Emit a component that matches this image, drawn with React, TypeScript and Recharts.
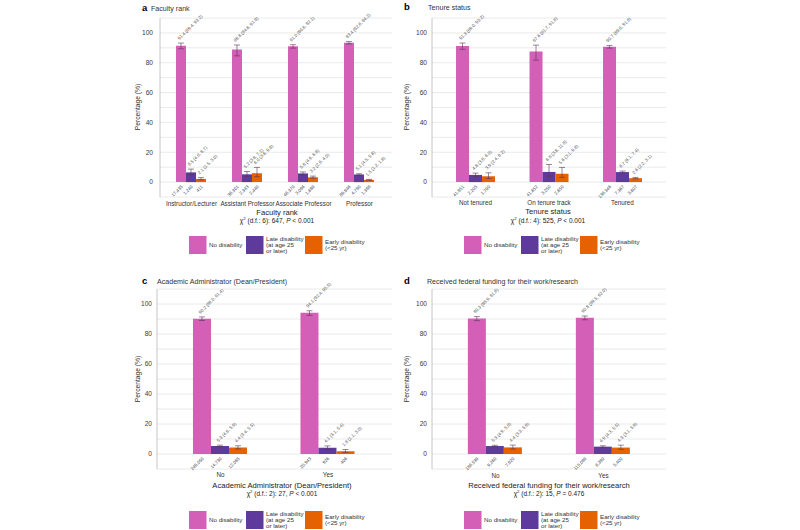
import { BarChart, Bar, XAxis, YAxis, CartesianGrid, ErrorBar, LabelList } from "recharts"

const COLOURS = { none: "#D35FB7", late: "#5D3A9B", early: "#E66100" }
const FONT = "'Liberation Sans', Arial, sans-serif"

// a — faculty rank
const rankCats = ["Instructor/Lecturer", "Assistant Professor", "Associate Professor", "Professor"]
const rankNone = [91.4, 88.8, 91.0, 93.4]
const rankNoneCI = [[89.4, 93.2], [84.6, 91.9], [89.8, 92.1], [92.6, 94.2]]
const rankLate = [6.5, 5.2, 5.8, 5.1]
const rankLateCI = [[4.8, 8.7], [3.8, 7.1], [4.9, 6.8], [4.5, 5.6]]
const rankEarly = [2.1, 6.0, 3.2, 1.5]
const rankEarlyCI = [[1.5, 3.0], [3.6, 9.8], [2.6, 4.0], [1.2, 1.8]]
const rankN = [["17,435", "1,240", "411"], ["36,301", "2,343", "2,440"], ["46,370", "3,096", "1,689"], ["89,846", "4,790", "1,398"]]

// b — tenure status
const tenureCats = ["Not tenured", "On tenure track", "Tenured"]
const tenureNone = [91.3, 87.6, 90.7]
const tenureNoneCI = [[89.0, 93.2], [81.7, 91.8], [89.8, 91.6]]
const tenureLate = [4.8, 6.8, 6.7]
const tenureLateCI = [[3.8, 6.0], [3.8, 11.8], [6.1, 7.4]]
const tenureEarly = [3.9, 5.6, 2.6]
const tenureEarlyCI = [[2.4, 6.2], [3.1, 9.8], [2.2, 3.1]]
const tenureN = [["41,951", "2,205", "1,790"], ["41,652", "3,250", "2,650"], ["136,346", "7,367", "3,607"]]

// c — academic administrator
const adminCats = ["No", "Yes"]
const adminNone = [90.2, 94.1]
const adminNoneCI = [[89.0, 91.4], [92.4, 95.5]]
const adminLate = [5.3, 4.1]
const adminLateCI = [[4.8, 5.9], [3.1, 5.4]]
const adminEarly = [4.4, 1.8]
const adminEarlyCI = [[3.4, 5.5], [1.1, 3.0]]
const adminN = [["249,050", "14,730", "12,085"], ["20,943", "926", "406"]]

// d — federal funding
const fundCats = ["No", "Yes"]
const fundNone = [90.3, 90.8]
const fundNoneCI = [[88.9, 91.6], [89.5, 92.0]]
const fundLate = [5.3, 4.9]
const fundLateCI = [[4.9, 5.8], [4.3, 5.5]]
const fundEarly = [4.4, 4.3]
const fundEarlyCI = [[3.3, 5.9], [3.1, 5.9]]
const fundN = [["186,539", "9,260", "7,820"], ["115,099", "6,390", "5,400"]]

const Y_TICKS = [-10, 0, 10, 20, 30, 40, 50, 60, 70, 80, 90, 100]

type Series = { vals: number[]; ci: number[][] }

function buildRows(cats: string[], none: Series, late: Series, early: Series) {
  return cats.map((c, i) => ({
    cat: c,
    none: none.vals[i],
    late: late.vals[i],
    early: early.vals[i],
    noneErr: [none.vals[i] - none.ci[i][0], none.ci[i][1] - none.vals[i]],
    lateErr: [late.vals[i] - late.ci[i][0], late.ci[i][1] - late.vals[i]],
    earlyErr: [early.vals[i] - early.ci[i][0], early.ci[i][1] - early.vals[i]],
  }))
}

function boxOf(props: any) {
  const vb = props.viewBox ?? {}
  return {
    x: props.x ?? vb.x,
    y: props.y ?? vb.y,
    width: props.width ?? vb.width,
    height: props.height ?? vb.height,
  }
}

// estimate + CI, rotated, sitting above the error bar
function estimateLabel(s: Series) {
  return (props: any) => {
    const i = props.index
    const { x, y, width, height } = boxOf(props)
    if (x == null) return null
    const v = s.vals[i]
    const base = y + height
    const hiPx = base - ((base - y) * s.ci[i][1]) / v
    const tx = x + width / 2 - 1.5
    const ty = hiPx - 3
    const txt = `${v.toFixed(1)} (${s.ci[i][0].toFixed(1)}, ${s.ci[i][1].toFixed(1)})`
    return (
      <text x={tx} y={ty} fontSize={4.5} fill="#555" fontFamily={FONT} transform={`rotate(-45 ${tx} ${ty})`}>
        {txt}
      </text>
    )
  }
}

// weighted n, rotated, under the zero line
function countLabel(counts: string[][], k: number) {
  return (props: any) => {
    const i = props.index
    const { x, y, width, height } = boxOf(props)
    if (x == null) return null
    const tx = x + width / 2 + 2
    const ty = y + height + 5
    return (
      <text x={tx} y={ty} fontSize={4.5} fill="#445" textAnchor="end" fontFamily={FONT} transform={`rotate(-45 ${tx} ${ty})`}>
        {counts[i][k]}
      </text>
    )
  }
}

type Geo = { l: number; r: number; t: number; b: number; padL: number; padR: number; gap: string; tickGap: number; labDy: number }

function Panel(props: { cats: string[]; none: Series; late: Series; early: Series; counts: string[][]; geo: Geo }) {
  const { geo } = props
  const rows = buildRows(props.cats, props.none, props.late, props.early)
  const yW = 30
  const top = 10
  const left = geo.l - yW
  const width = geo.r - left + 4
  const height = top + (geo.b - geo.t) + 16

  const xTick = (p: any) => (
    <text x={p.x} y={p.y + geo.labDy} dy="0.35em" textAnchor="middle" fontSize={6.3} fill="#333" fontFamily={FONT}>
      {p.payload.value}
    </text>
  )

  return (
    <div style={{ position: "absolute", left, top: geo.t - top }}>
      <BarChart
        width={width}
        height={height}
        data={rows}
        margin={{ top, right: 4, left: 0, bottom: 0 }}
        barCategoryGap={geo.gap}
        barGap={0}
      >
        <CartesianGrid vertical={false} stroke="#e4e4e4" strokeWidth={0.8} />
        <XAxis
          dataKey="cat"
          interval={0}
          height={16}
          axisLine={false}
          tickLine={false}
          tickSize={0}
          tickMargin={0}
          tick={xTick}
          padding={{ left: geo.padL, right: geo.padR }}
        />
        <YAxis
          width={yW}
          domain={[-10, 110]}
          ticks={Y_TICKS}
          tickFormatter={(v: number) => (v >= 0 && v % 20 === 0 ? String(v) : "")}
          tick={{ fontSize: 6.6, fill: "#3a3a3a", fontFamily: FONT }}
          tickLine={false}
          tickSize={0}
          tickMargin={geo.tickGap}
          axisLine={{ stroke: "#b8b8b8", strokeWidth: 0.8 }}
          allowDataOverflow
        />
        <Bar dataKey="none" fill={COLOURS.none} isAnimationActive={false}>
          <ErrorBar dataKey="noneErr" width={3} stroke="#5a3558" strokeWidth={0.6} />
          <LabelList dataKey="none" content={estimateLabel(props.none)} />
          <LabelList dataKey="none" content={countLabel(props.counts, 0)} />
        </Bar>
        <Bar dataKey="late" fill={COLOURS.late} isAnimationActive={false}>
          <ErrorBar dataKey="lateErr" width={3} stroke="#5a3558" strokeWidth={0.6} />
          <LabelList dataKey="late" content={estimateLabel(props.late)} />
          <LabelList dataKey="late" content={countLabel(props.counts, 1)} />
        </Bar>
        <Bar dataKey="early" fill={COLOURS.early} isAnimationActive={false}>
          <ErrorBar dataKey="earlyErr" width={3} stroke="#5a3558" strokeWidth={0.6} />
          <LabelList dataKey="early" content={estimateLabel(props.early)} />
          <LabelList dataKey="early" content={countLabel(props.counts, 2)} />
        </Bar>
      </BarChart>
    </div>
  )
}

function Legend(props: { x: number; y: number }) {
  const { x, y } = props
  const fs = 6.2
  const c = y + 9
  return (
    <g fontFamily={FONT} fontSize={fs} fill="#333">
      <rect x={x} y={y} width={17.5} height={18} fill={COLOURS.none} />
      <text x={x + 20} y={c + 2}>No disability</text>
      <rect x={x + 57} y={y} width={17.5} height={18} fill={COLOURS.late} />
      <text x={x + 77} y={c - 4.3}>Late disability</text>
      <text x={x + 77} y={c + 2}>(at age 25</text>
      <text x={x + 77} y={c + 8.3}>or later)</text>
      <rect x={x + 116} y={y} width={17.5} height={18} fill={COLOURS.early} />
      <text x={x + 136} y={c - 1.1}>Early disability</text>
      <text x={x + 136} y={c + 5.2}>(&lt;25 yr)</text>
    </g>
  )
}

function Chi(props: { x: number; y: number; df: number; stat: number; p: string }) {
  return (
    <text x={props.x} y={props.y} textAnchor="middle" fontSize={6.5} fill="#222" fontFamily={FONT}>
      <tspan>χ</tspan>
      <tspan dy={-2.4} fontSize={4.3}>2</tspan>
      <tspan dy={2.4}>{` (d.f.: ${props.df}): ${props.stat}, `}</tspan>
      <tspan fontStyle="italic">P</tspan>
      <tspan>{` ${props.p}`}</tspan>
    </text>
  )
}

function PanelText(props: { letter: string; lx: number; title: string; tx: number; ty: number; px: number; pcy: number; cx: number; axisTitle: string; ay: number }) {
  return (
    <g fontFamily={FONT}>
      <text x={props.lx} y={props.ty} fontSize={9.5} fontWeight="bold" fill="#000">{props.letter}</text>
      <text x={props.tx} y={props.ty} fontSize={7.1} fill="#333">{props.title}</text>
      <text x={props.px} y={props.pcy} fontSize={6.7} fill="#333" textAnchor="middle" transform={`rotate(-90 ${props.px} ${props.pcy})`} dy="0.35em">
        Percentage (%)
      </text>
      <text x={props.cx} y={props.ay} fontSize={7.6} fill="#222" textAnchor="middle">{props.axisTitle}</text>
    </g>
  )
}

const geoA: Geo = { l: 160, r: 392, t: 18, b: 197, padL: 3.5, padR: 4.5, gap: "22.3%", tickGap: 7, labDy: 7 }
const geoB: Geo = { l: 432, r: 666, t: 18, b: 197, padL: 6.75, padR: 6.75, gap: "23.5%", tickGap: 5, labDy: 6 }
const geoC: Geo = { l: 157, r: 392, t: 289, b: 469, padL: 9.75, padR: 10.25, gap: "24.4%", tickGap: 5, labDy: 6 }
const geoD: Geo = { l: 432, r: 666, t: 289, b: 469, padL: 9.5, padR: 8.5, gap: "24.4%", tickGap: 5, labDy: 7 }

export default function App() {
  return (
    <div style={{ position: "absolute", left: 0, top: 0, width: 800, height: 530, background: "#fff" }}>
      <svg width={800} height={530} style={{ position: "absolute", left: 0, top: 0 }}>
        <PanelText letter="a" lx={142} title="Faculty rank" tx={151} ty={11} px={138} pcy={107} cx={277} axisTitle="Faculty rank" ay={214.5} />
        <Chi x={277} y={222.5} df={6} stat={647} p="< 0.001" />
        <Legend x={189} y={236} />

        <PanelText letter="b" lx={404} title="Tenure status" tx={428} ty={10} px={407} pcy={107} cx={548} axisTitle="Tenure status" ay={214} />
        <Chi x={548} y={222.5} df={4} stat={525} p="< 0.001" />
        <Legend x={464} y={236} />

        <PanelText letter="c" lx={142} title="Academic Administrator (Dean/President)" tx={157} ty={284} px={138} pcy={379} cx={282} axisTitle="Academic Administrator (Dean/President)" ay={487.5} />
        <Chi x={282} y={495.5} df={2} stat={27} p="< 0.001" />
        <Legend x={189} y={511} />

        <PanelText letter="d" lx={404} title="Received federal funding for their work/research" tx={427} ty={284} px={407} pcy={379} cx={549} axisTitle="Received federal funding for their work/research" ay={487.5} />
        <Chi x={549} y={495.5} df={2} stat={15} p="= 0.476" />
        <Legend x={464} y={511} />
      </svg>

      <Panel cats={rankCats} none={{ vals: rankNone, ci: rankNoneCI }} late={{ vals: rankLate, ci: rankLateCI }} early={{ vals: rankEarly, ci: rankEarlyCI }} counts={rankN} geo={geoA} />
      <Panel cats={tenureCats} none={{ vals: tenureNone, ci: tenureNoneCI }} late={{ vals: tenureLate, ci: tenureLateCI }} early={{ vals: tenureEarly, ci: tenureEarlyCI }} counts={tenureN} geo={geoB} />
      <Panel cats={adminCats} none={{ vals: adminNone, ci: adminNoneCI }} late={{ vals: adminLate, ci: adminLateCI }} early={{ vals: adminEarly, ci: adminEarlyCI }} counts={adminN} geo={geoC} />
      <Panel cats={fundCats} none={{ vals: fundNone, ci: fundNoneCI }} late={{ vals: fundLate, ci: fundLateCI }} early={{ vals: fundEarly, ci: fundEarlyCI }} counts={fundN} geo={geoD} />
    </div>
  )
}
